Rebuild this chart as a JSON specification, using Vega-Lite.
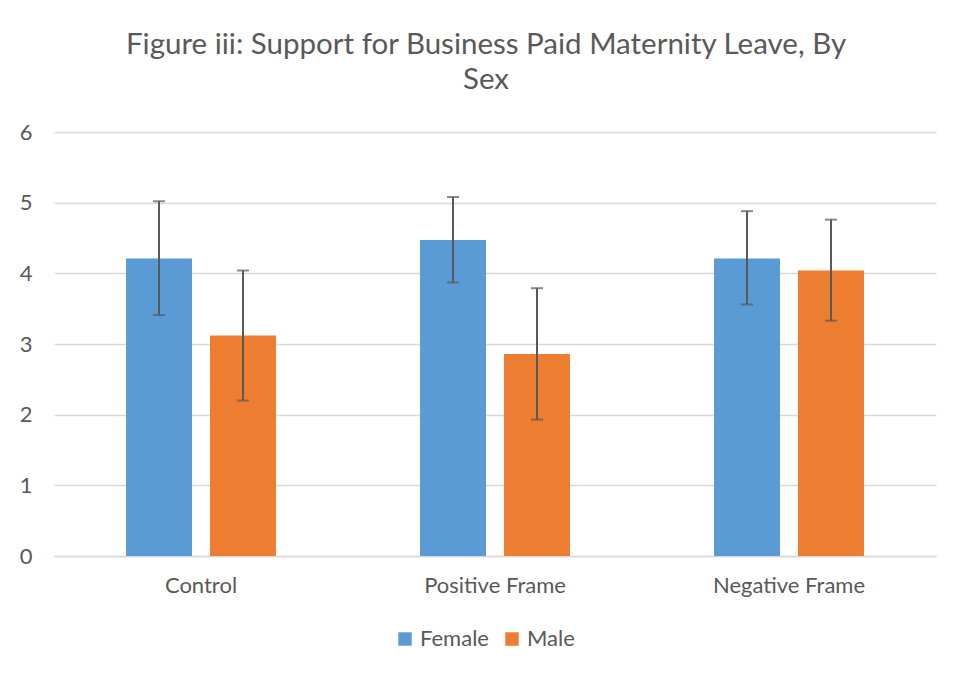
{
  "$schema": "https://vega.github.io/schema/vega-lite/v6.json",
  "width": 882,
  "height": 424,
  "autosize": {"type": "none"},
  "padding": {"left": 54, "top": 132, "right": 29, "bottom": 120},
  "background": "white",
  "title": {
    "text": ["Figure iii: Support for Business Paid Maternity Leave, By", "Sex"],
    "font": "Lato",
    "fontSize": 29.5,
    "fontWeight": "normal",
    "color": "#595959",
    "lineHeight": 35,
    "offset": 26,
    "dx": -9
  },
  "data": {
    "values": [
      {"condition": "Control", "sex": "Female", "mean": 4.21, "lo": 3.41, "hi": 5.02},
      {"condition": "Control", "sex": "Male", "mean": 3.12, "lo": 2.2, "hi": 4.04},
      {"condition": "Positive Frame", "sex": "Female", "mean": 4.47, "lo": 3.87, "hi": 5.08},
      {"condition": "Positive Frame", "sex": "Male", "mean": 2.86, "lo": 1.93, "hi": 3.79},
      {"condition": "Negative Frame", "sex": "Female", "mean": 4.21, "lo": 3.56, "hi": 4.88},
      {"condition": "Negative Frame", "sex": "Male", "mean": 4.04, "lo": 3.33, "hi": 4.76}
    ]
  },
  "encoding": {
    "x": {
      "field": "condition",
      "type": "nominal",
      "sort": ["Control", "Positive Frame", "Negative Frame"],
      "scale": {"paddingInner": 0.49, "paddingOuter": 0.245},
      "axis": {
        "title": null,
        "labelAngle": 0,
        "labelFont": "Lato",
        "labelFontSize": 22,
        "labelColor": "#595959",
        "labelPadding": 19,
        "ticks": false,
        "domain": true,
        "domainColor": "#d9d9d9",
        "domainWidth": 1.3,
        "grid": false
      }
    },
    "xOffset": {
      "field": "sex",
      "type": "nominal",
      "sort": ["Female", "Male"],
      "scale": {"paddingInner": 0.214, "paddingOuter": 0}
    }
  },
  "layer": [
    {
      "mark": {"type": "bar"},
      "encoding": {
        "y": {
          "field": "mean",
          "type": "quantitative",
          "scale": {"domain": [0, 6], "nice": false},
          "axis": {
            "title": null,
            "values": [0, 1, 2, 3, 4, 5, 6],
            "labelFont": "Lato",
            "labelFontSize": 22,
            "labelColor": "#595959",
            "labelPadding": 22,
            "ticks": false,
            "domain": false,
            "gridColor": "#d9d9d9",
            "gridWidth": 1.3
          }
        },
        "color": {
          "field": "sex",
          "type": "nominal",
          "sort": ["Female", "Male"],
          "scale": {"domain": ["Female", "Male"], "range": ["#5B9BD5", "#ED7D31"]},
          "legend": {
            "title": null,
            "orient": "none",
            "direction": "horizontal",
            "legendX": 340,
            "legendY": 496,
            "symbolType": "square",
            "symbolSize": 180,
            "symbolStrokeWidth": 0,
            "labelFont": "Lato",
            "labelFontSize": 22,
            "labelColor": "#595959",
            "labelOffset": 4,
            "columnPadding": 12
          }
        }
      }
    },
    {
      "mark": {"type": "rule", "color": "#595959", "strokeWidth": 2},
      "encoding": {
        "y": {
          "field": "lo",
          "type": "quantitative",
          "scale": {"domain": [0, 6], "nice": false},
          "axis": {
            "title": null,
            "values": [0, 1, 2, 3, 4, 5, 6],
            "labelFont": "Lato",
            "labelFontSize": 22,
            "labelColor": "#595959",
            "labelPadding": 22,
            "ticks": false,
            "domain": false,
            "gridColor": "#d9d9d9",
            "gridWidth": 1.3
          }
        },
        "y2": {"field": "hi"}
      }
    },
    {
      "mark": {"type": "tick", "color": "#595959", "thickness": 2, "size": 12},
      "encoding": {
        "y": {
          "field": "hi",
          "type": "quantitative",
          "scale": {"domain": [0, 6], "nice": false},
          "axis": {
            "title": null,
            "values": [0, 1, 2, 3, 4, 5, 6],
            "labelFont": "Lato",
            "labelFontSize": 22,
            "labelColor": "#595959",
            "labelPadding": 22,
            "ticks": false,
            "domain": false,
            "gridColor": "#d9d9d9",
            "gridWidth": 1.3
          }
        }
      }
    },
    {
      "mark": {"type": "tick", "color": "#595959", "thickness": 2, "size": 12},
      "encoding": {
        "y": {
          "field": "lo",
          "type": "quantitative",
          "scale": {"domain": [0, 6], "nice": false},
          "axis": {
            "title": null,
            "values": [0, 1, 2, 3, 4, 5, 6],
            "labelFont": "Lato",
            "labelFontSize": 22,
            "labelColor": "#595959",
            "labelPadding": 22,
            "ticks": false,
            "domain": false,
            "gridColor": "#d9d9d9",
            "gridWidth": 1.3
          }
        }
      }
    }
  ],
  "config": {"view": {"stroke": null}}
}
